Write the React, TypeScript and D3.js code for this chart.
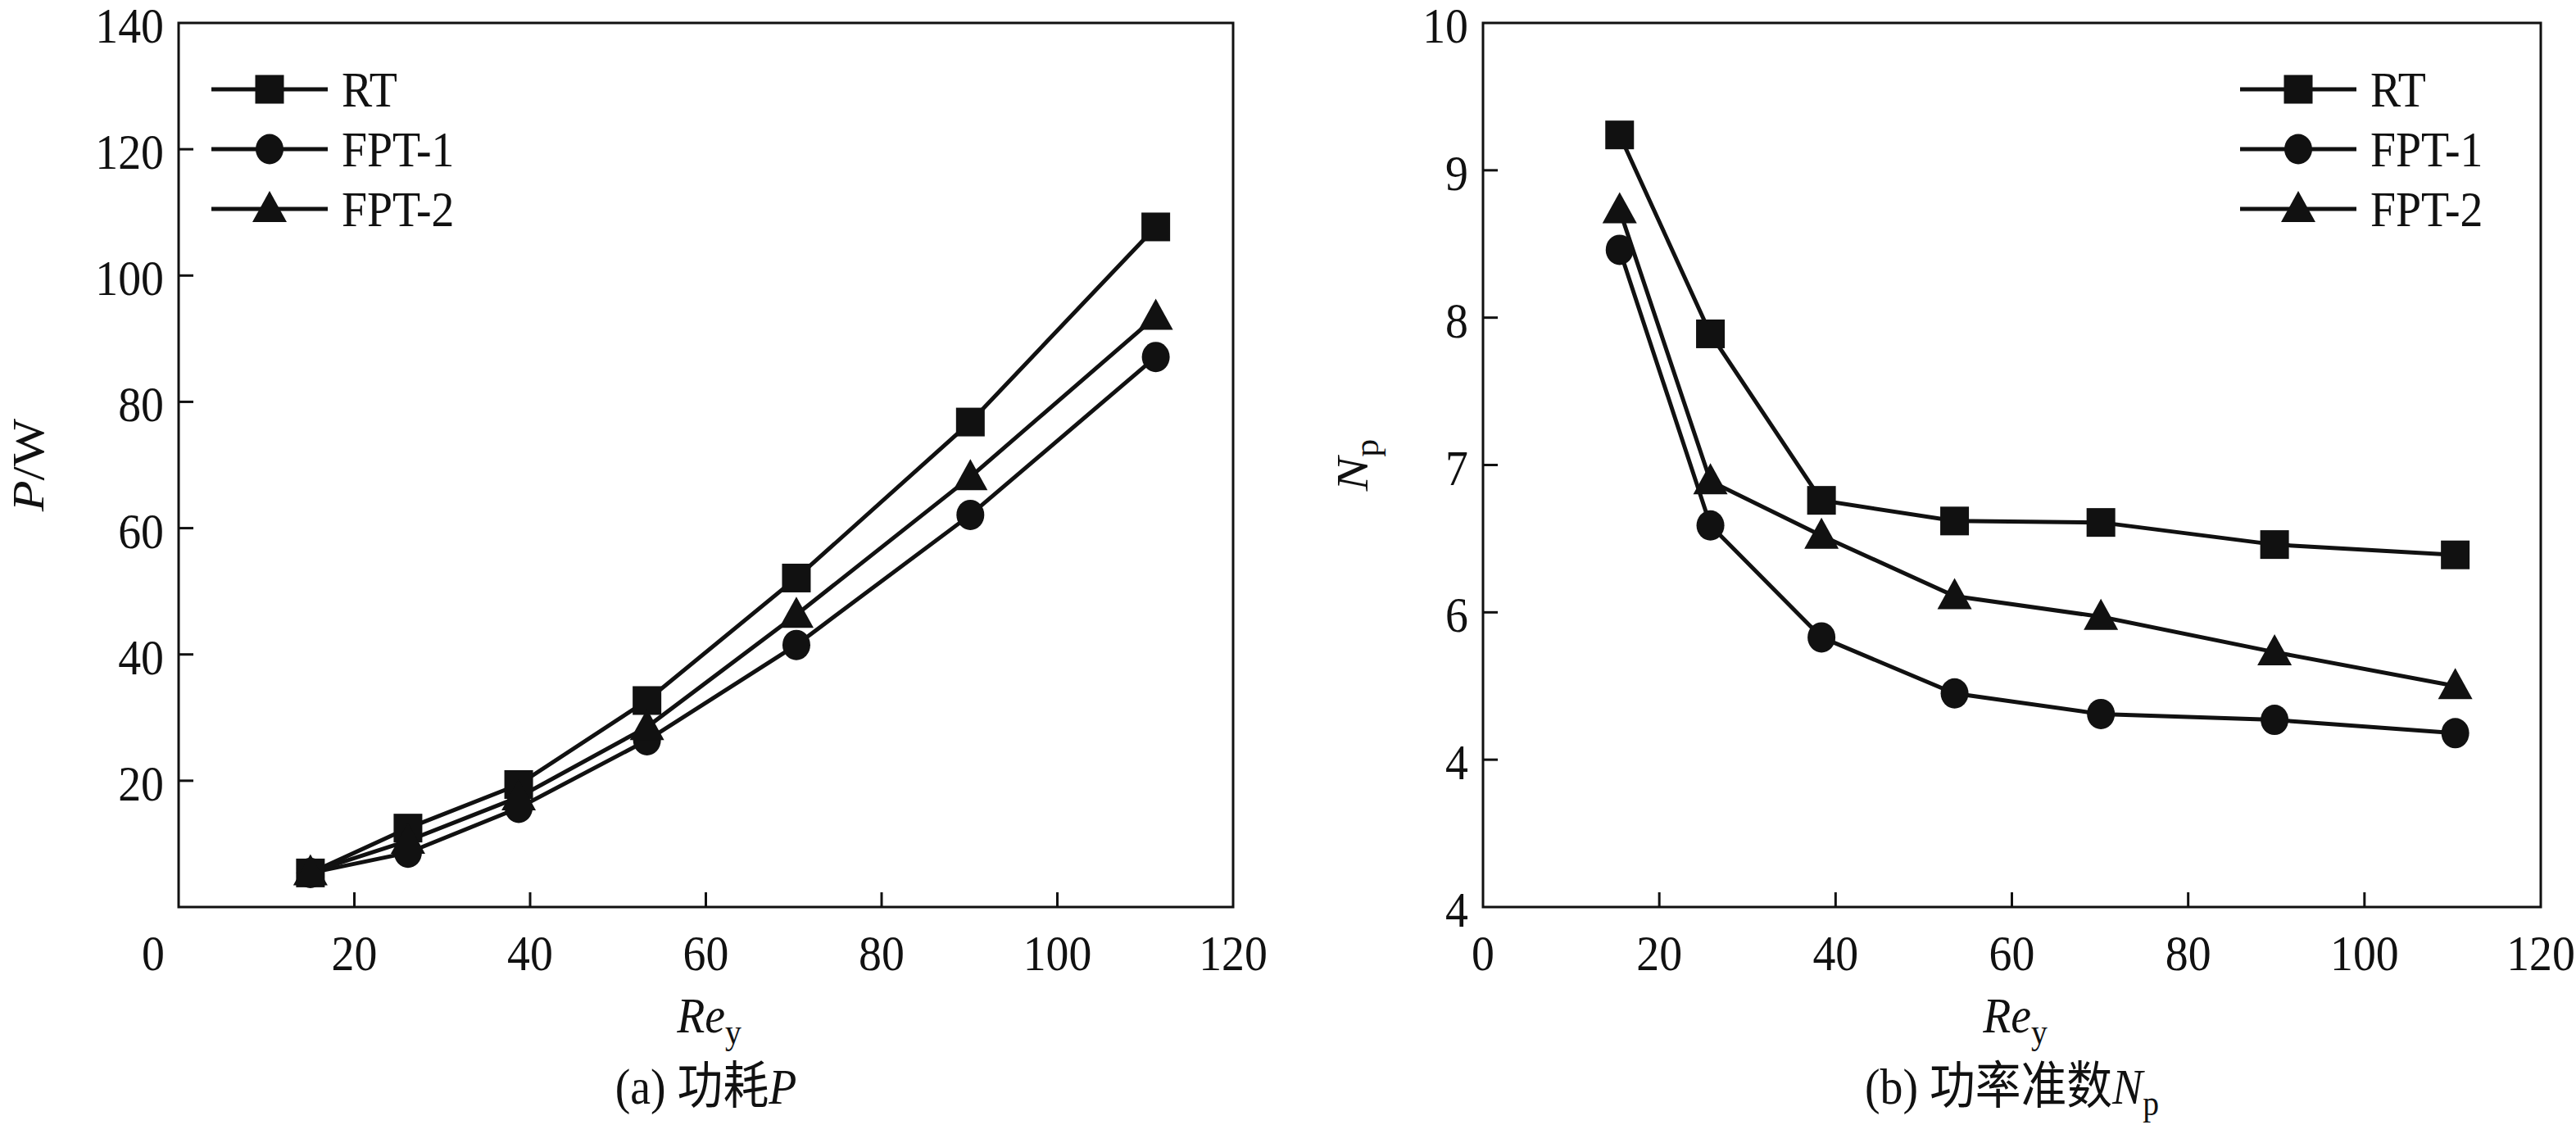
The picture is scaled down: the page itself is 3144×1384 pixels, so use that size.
import React from 'react';
import * as d3 from 'd3';

// Re_y values
const reA = [15.0, 26.1, 38.7, 53.3, 70.3, 90.1, 111.2];
const reB = [15.5, 25.8, 38.4, 53.5, 70.1, 89.8, 110.3];

// (a) power consumption P / W
const powerRT = [5.4, 12.5, 19.4, 32.7, 52.1, 76.8, 107.7];
const powerFPT1 = [5.4, 8.6, 15.7, 26.4, 41.5, 62.1, 87.1];
const powerFPT2 = [5.5, 10.5, 17.4, 28.5, 46.3, 68.1, 93.5];

// (b) power number Np
const npRT = [9.24, 7.89, 6.76, 6.62, 6.61, 6.46, 6.39];
const npFPT1 = [8.46, 6.59, 5.83, 5.45, 5.31, 5.27, 5.18];
const npFPT2 = [8.73, 6.89, 6.52, 6.11, 5.97, 5.73, 5.5];

const seriesNames = ['RT', 'FPT-1', 'FPT-2'];
const xTicks = [0, 20, 40, 60, 80, 100, 120];
const pTicks = [20, 40, 60, 80, 100, 120, 140];
const npTicks = [4, 5, 6, 7, 8, 9, 10];
const npTickLabels = ['4', '4', '6', '7', '8', '9', '10'];

const FONT = '"Liberation Serif", "Times New Roman", "Noto Sans CJK SC", serif';
const FS = 62;
const SQ = 0.9; // glyphs in the figure are a bit narrow

type Shape = 'square' | 'circle' | 'triangle';
const shapes: Shape[] = ['square', 'circle', 'triangle'];

function Marker({ x, y, shape }: { x: number; y: number; shape: Shape }) {
  if (shape === 'square') return <rect x={x - 17.5} y={y - 17.5} width={35} height={35} fill="#111" />;
  if (shape === 'circle') return <ellipse cx={x} cy={y} rx={17} ry={18.5} fill="#111" />;
  return <path d={`M${x},${y - 22}L${x + 21},${y + 16}L${x - 21},${y + 16}Z`} fill="#111" />;
}

function T({ x, y, anchor = 'middle', children, size = FS }: any) {
  return (
    <text
      transform={`translate(${x},${y}) scale(${SQ},1)`}
      textAnchor={anchor}
      fontFamily={FONT}
      fontSize={size}
      fill="#111"
    >
      {children}
    </text>
  );
}

interface PanelProps {
  left: number;
  right: number;
  top: number;
  bottom: number;
  re: number[];
  series: number[][];
  yDomain: [number, number];
  yTicks: number[];
  yLabels: string[];
  yInner: number[];
  shiftZero: boolean;
  legendX: number;
  yTitle: React.ReactNode;
  yTitleX: number;
  caption: React.ReactNode;
}

function Panel(p: PanelProps) {
  const x = d3.scaleLinear().domain([0, 120]).range([p.left, p.right]);
  const y = d3.scaleLinear().domain(p.yDomain).range([p.bottom, p.top]);
  const line = d3
    .line<number>()
    .x((_, i) => x(p.re[i]))
    .y((d) => y(d));
  const cx = (p.left + p.right) / 2;
  const cy = (p.top + p.bottom) / 2;
  const legendRows = [109, 182, 255];

  return (
    <g>
      <rect
        x={p.left}
        y={p.top}
        width={p.right - p.left}
        height={p.bottom - p.top}
        fill="none"
        stroke="#111"
        strokeWidth={3}
      />
      {xTicks.slice(1, -1).map((t) => (
        <line key={'xt' + t} x1={x(t)} x2={x(t)} y1={p.bottom} y2={p.bottom - 18} stroke="#111" strokeWidth={3} />
      ))}
      {p.yInner.map((t) => (
        <line key={'yt' + t} x1={p.left} x2={p.left + 18} y1={y(t)} y2={y(t)} stroke="#111" strokeWidth={3} />
      ))}
      {xTicks.map((t) => (
        <T key={'xl' + t} x={x(t) + (t === 0 && p.shiftZero ? -31 : 0)} y={p.bottom + 77}>
          {String(t)}
        </T>
      ))}
      {p.yTicks.map((t, i) => (
        <T key={'yl' + t} x={p.left - 18} y={y(t) + 24} anchor="end">
          {p.yLabels[i]}
        </T>
      ))}

      {p.series.map((s, si) => (
        <path key={'ln' + si} d={line(s) ?? ''} fill="none" stroke="#111" strokeWidth={5} />
      ))}
      {p.series.map((s, si) =>
        s.map((v, i) => <Marker key={`m${si}-${i}`} x={x(p.re[i])} y={y(v)} shape={shapes[si]} />)
      )}

      {seriesNames.map((name, i) => (
        <g key={'lg' + name}>
          <line
            x1={p.legendX}
            x2={p.legendX + 142}
            y1={legendRows[i]}
            y2={legendRows[i]}
            stroke="#111"
            strokeWidth={5}
          />
          <Marker x={p.legendX + 71} y={legendRows[i]} shape={shapes[i]} />
          <T x={p.legendX + 159} y={legendRows[i] + 21} anchor="start">
            {name}
          </T>
        </g>
      ))}

      <g transform={`translate(${p.yTitleX},${cy}) rotate(-90) scale(1,${SQ})`}>
        <text textAnchor="middle" fontFamily={FONT} fontSize={FS} fill="#111" y={21}>
          {p.yTitle}
        </text>
      </g>

      <T x={cx + 4} y={1260}>
        <tspan fontStyle="italic">Re</tspan>
        <tspan fontSize={44} dy={14}>
          y
        </tspan>
      </T>
      <T x={cx} y={1347}>
        {p.caption}
      </T>
    </g>
  );
}

export default function App() {
  const top = 28;
  const bottom = 1107;
  return (
    <svg
      width={3144}
      height={1384}
      viewBox="0 0 3144 1384"
      style={{ position: 'absolute', left: 0, top: 0, background: '#fff' }}
    >
      <rect width={3144} height={1384} fill="#fff" />
      <Panel
        left={218}
        right={1505}
        top={top}
        bottom={bottom}
        re={reA}
        series={[powerRT, powerFPT1, powerFPT2]}
        yDomain={[0, 140]}
        yTicks={pTicks}
        yLabels={pTicks.map(String)}
        yInner={[20, 40, 60, 80, 100, 120]}
        shiftZero={true}
        legendX={258}
        yTitleX={34}
        yTitle={
          <>
            <tspan fontStyle="italic">P</tspan>
            <tspan>/W</tspan>
          </>
        }
        caption={
          <>
            <tspan>(a) 功耗</tspan>
            <tspan fontStyle="italic">P</tspan>
          </>
        }
      />
      <Panel
        left={1810}
        right={3101}
        top={top}
        bottom={bottom}
        re={reB}
        series={[npRT, npFPT1, npFPT2]}
        yDomain={[4, 10]}
        yTicks={npTicks}
        yLabels={npTickLabels}
        yInner={[5, 6, 7, 8, 9]}
        shiftZero={false}
        legendX={2734}
        yTitleX={1650}
        yTitle={
          <>
            <tspan fontStyle="italic">N</tspan>
            <tspan fontSize={44} dy={14}>
              p
            </tspan>
          </>
        }
        caption={
          <>
            <tspan>(b) 功率准数</tspan>
            <tspan fontStyle="italic">N</tspan>
            <tspan fontSize={44} dy={14}>
              p
            </tspan>
          </>
        }
      />
    </svg>
  );
}
